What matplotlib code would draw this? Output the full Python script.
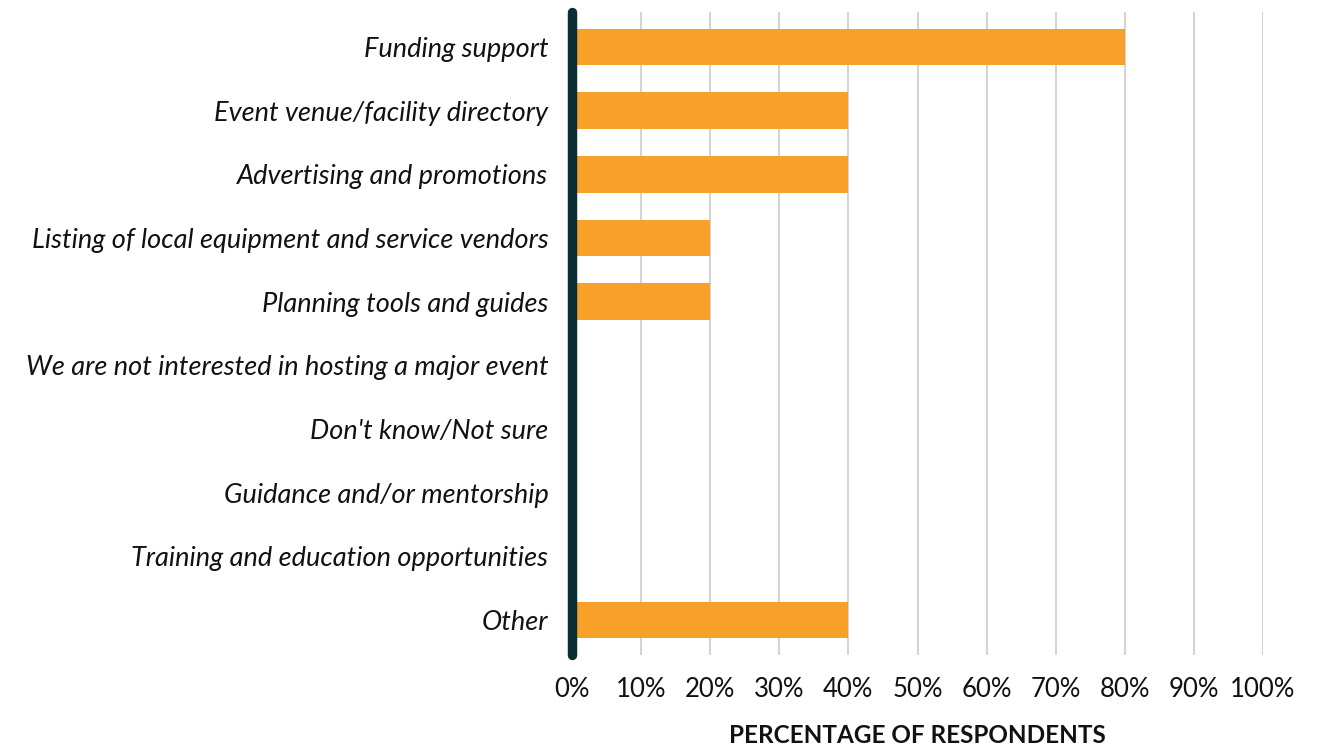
import matplotlib
matplotlib.use("Agg")
import matplotlib.pyplot as plt
from matplotlib.ticker import FuncFormatter

categories = [
    "Funding support",
    "Event venue/facility directory",
    "Advertising and promotions",
    "Listing of local equipment and service vendors",
    "Planning tools and guides",
    "We are not interested in hosting a major event",
    "Don't know/Not sure",
    "Guidance and/or mentorship",
    "Training and education opportunities",
    "Other",
]
values = [80, 40, 40, 20, 20, 0, 0, 0, 0, 40]
ticks = list(range(0, 101, 10))

plt.rcParams["font.family"] = ["Lato", "DejaVu Sans"]

fig = plt.figure(figsize=(13.31, 7.5), dpi=100)
ax = fig.add_axes([572 / 1331, 1 - 655 / 750, (1263 - 572) / 1331, (655 - 12) / 750])

pos = list(range(len(categories)))
ax.barh(pos, values, height=0.58, color="#f7a02a", zorder=2)

# light vertical gridlines
for t in ticks[1:]:
    ax.axvline(t, color="#d4d4d4", lw=1.5, zorder=1)

# thick dark baseline with rounded ends
ax.plot([0, 0], [-0.55, 9.55], color="#0b2e33", lw=6.8,
        solid_capstyle="round", zorder=3, clip_on=False)

ax.set_xlim(0, 100)
ax.set_ylim(9.55, -0.55)
ax.set_xticks(ticks)
ax.xaxis.set_major_formatter(FuncFormatter(lambda v, _: f"{v:.0f}%"))
ax.set_yticks(pos)
ax.set_yticklabels(categories, fontstyle="italic", fontsize=19.5, color="#111111")
ax.tick_params(axis="x", length=0, pad=16, labelsize=18.5, labelcolor="#111111")
ax.tick_params(axis="y", length=0, pad=17)
for s in ax.spines.values():
    s.set_visible(False)

ax.set_xlabel("PERCENTAGE OF RESPONDENTS", fontsize=17.5, fontweight="bold",
              labelpad=15.5, color="#111111")

fig.savefig("out.png", dpi=100)
